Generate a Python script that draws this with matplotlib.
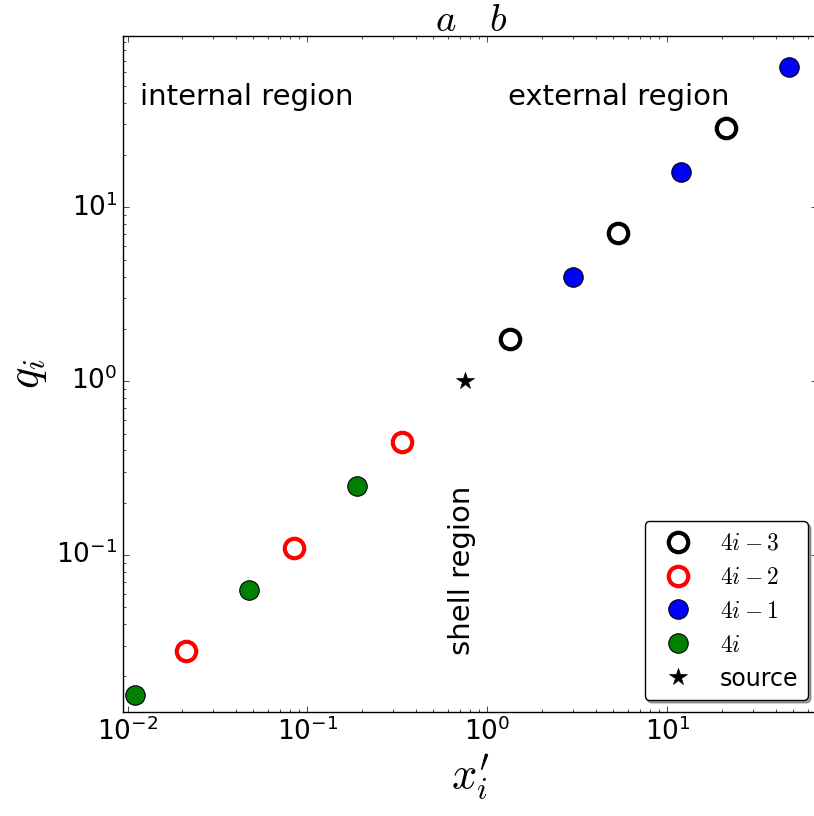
import matplotlib
matplotlib.use('Agg')
import matplotlib.pyplot as plt

plt.style.use('classic')
plt.rcParams['mathtext.fontset'] = 'cm'

# image charges, grouped by index class
x_4i3 = [1.33, 5.30, 21.1]
q_4i3 = [1.76, 7.08, 28.5]
x_4i2 = [0.0211, 0.0839, 0.334]
q_4i2 = [0.0279, 0.110, 0.444]
x_4i1 = [2.98, 11.9, 47.2]
q_4i1 = [4.0, 15.9, 63.9]
x_4i = [0.0110, 0.0472, 0.188]
q_4i = [0.0157, 0.0625, 0.248]
x_src = [0.75]
q_src = [1.0]

# shell radii
a = 0.585
b = 1.14

fig = plt.figure(figsize=(8.14, 8.16), dpi=100, facecolor='white')
ax = fig.add_axes([0.1511, 0.1275, 0.853, 0.8285])

ax.plot(x_4i3, q_4i3, 'o', ms=14, mfc='none', mec='k', mew=3, label='$4i-3$')
ax.plot(x_4i2, q_4i2, 'o', ms=14, mfc='none', mec='r', mew=3, label='$4i-2$')
ax.plot(x_4i1, q_4i1, 'o', ms=14, mfc='b', mec='k', mew=0.8, label='$4i-1$')
ax.plot(x_4i, q_4i, 'o', ms=14, mfc='g', mec='k', mew=0.8, label='$4i$')
ax.plot(x_src, q_src, '*', ms=13, mfc='k', mec='k', label='source')

ax.set_xscale('log')
ax.set_yscale('log')
ax.set_xlim(0.00944, 68)
ax.set_ylim(0.0125, 97)
ax.tick_params(labelsize=19)

ax.set_xlabel("$x_i'$", fontsize=32)
ax.set_ylabel('$q_i$', fontsize=32)

ax.text(a, 1.007, '$a$', transform=ax.get_xaxis_transform(), ha='center', va='baseline', fontsize=28)
ax.text(b, 1.007, '$b$', transform=ax.get_xaxis_transform(), ha='center', va='baseline', fontsize=28)

ax.text(0.0245, 0.91, 'internal region', transform=ax.transAxes, ha='left', va='center', fontsize=21)
ax.text(0.555, 0.91, 'external region', transform=ax.transAxes, ha='left', va='center', fontsize=21)
ax.text(0.488, 0.21, 'shell region', transform=ax.transAxes, ha='center', va='center',
        rotation=90, fontsize=21)

ax.legend(loc='lower right', numpoints=1, fancybox=True, shadow=True, fontsize=17,
          labelspacing=0.42, bbox_to_anchor=(808 / 814, 1 - 700 / 816),
          bbox_transform=fig.transFigure, borderaxespad=0)

fig.savefig('out.png', dpi=100, facecolor='white')
